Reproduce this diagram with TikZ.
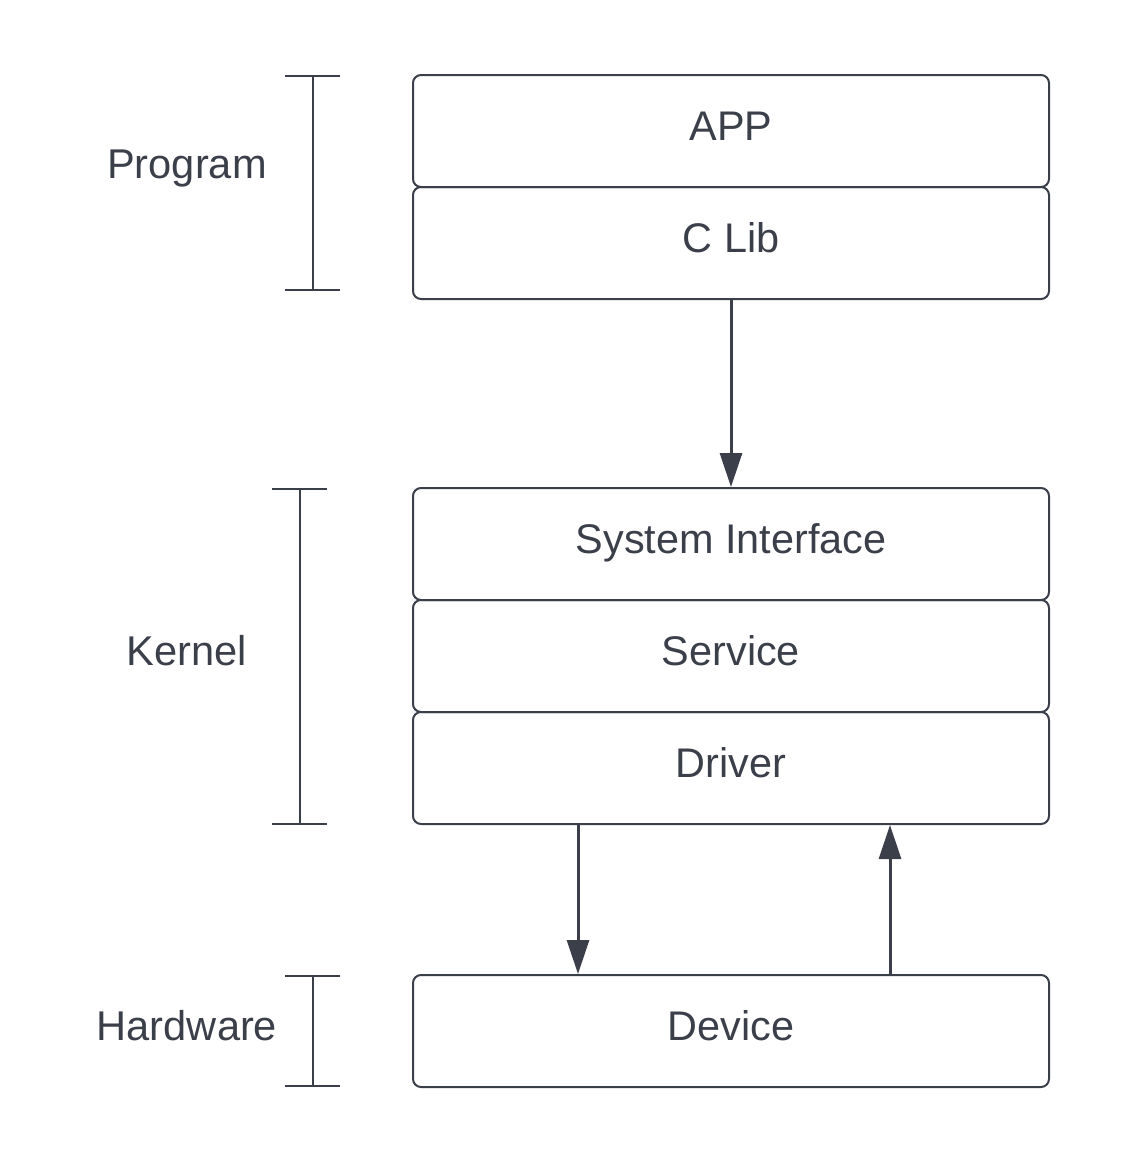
\documentclass[tikz,border=0pt]{standalone}
\usepackage{fontspec}
\setmainfont{Liberation Sans}
\usetikzlibrary{arrows.meta}
\definecolor{ink}{HTML}{3A3F4A}

\begin{document}
\begin{tikzpicture}[x=0.5pt,y=-0.5pt,
  layer/.style={draw=ink,line width=1pt,rounded corners=4pt,minimum width=318pt,minimum height=56pt,text=ink,font=\fontsize{20.7}{24}\selectfont,text height=15pt,text depth=6pt},
  level/.style={text=ink,font=\fontsize{20.8}{24}\selectfont},
  flow/.style={draw=ink,line width=1.5pt,-{Triangle[width=11pt,length=17pt]}},
  brace/.style={draw=ink,line width=1pt}]
  \useasboundingbox (0,0) rectangle (1125,1163);
  \node (app) at (731,131) [layer] {APP};
  \node (clib) at (731,243) [layer] {C Lib};
  \node (sys) at (731,544) [layer] {System Interface};
  \node (service) at (731,656) [layer] {Service};
  \node (driver) at (731,768) [layer] {Driver};
  \node (device) at (731,1031) [layer] {Device};
  \draw[flow] (clib) to (sys);
  \draw[flow] ([xshift=-76.5pt]driver.south) to ([xshift=-76.5pt]device.north);
  \draw[flow] ([xshift=79.5pt]device.north) to ([xshift=79.5pt]driver.south);
  % brackets on the left
  \node (program) at (187,168) [level] {Program};
  \draw[brace] (285,76) -- (340,76) (313,76) -- (313,290) (285,290) -- (340,290);
  \node (kernel) at (187,651) [level] {Kernel};
  \draw[brace] (272,489) -- (327,489) (300,489) -- (300,824) (272,824) -- (327,824);
  \node (hardware) at (187,1026) [level] {Hardware};
  \draw[brace] (285,976) -- (340,976) (313,976) -- (313,1086) (285,1086) -- (340,1086);
\end{tikzpicture}
\end{document}
